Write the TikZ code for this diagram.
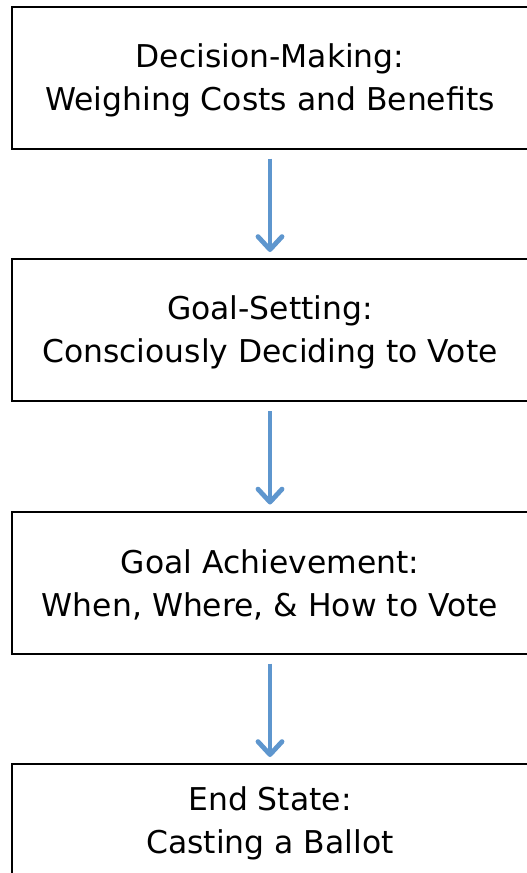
\documentclass[tikz,border=0pt]{standalone}
\usepackage{fontspec}
\setmainfont{DejaVu Sans}
\usetikzlibrary{positioning}
\usetikzlibrary{arrows.meta}

\definecolor{flowblue}{RGB}{94,150,206}

\begin{document}
\begin{tikzpicture}[x = 1pt, y = -1pt,
stage/.style = {shape = rectangle, draw = black, line width = 2pt, minimum width = 516pt, minimum height = 142pt, align = center, inner sep = 0pt, text height = 72pt, font = \fontsize{31.4}{43}\selectfont},
flow/.style = {draw = flowblue, line width = 4.8pt, -{Straight Barb[length = 13pt, width = 24pt, line width = 4.8pt, round]}, shorten <= 9pt, shorten >= 6pt},
node distance = 108.5pt
]
\clip (0, 0) rectangle (527, 873);
\node[stage] (D) at (270, 77.5) {Decision-Making:\\Weighing Costs and Benefits};
\node[stage] (G) [below = of D] {Goal-Setting:\\Consciously Deciding to Vote};
\node[stage] (A) [below = of G] {Goal Achievement:\\When, Where, \& How to Vote};
\node[stage, minimum height = 114pt] (E) [below = of A] {End State:\\Casting a Ballot};

\path[flow](D) edge (G);
\path[flow](G) edge (A);
\path[flow](A) edge (E);
\end{tikzpicture}
\end{document}
